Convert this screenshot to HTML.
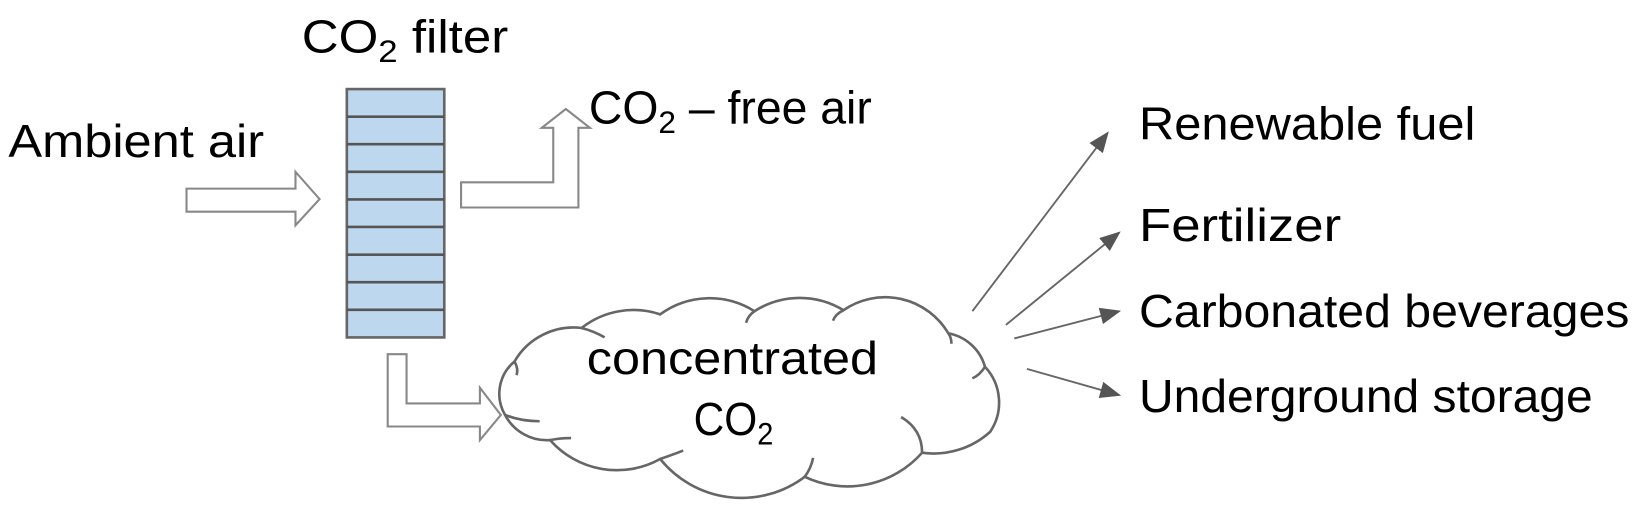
<!DOCTYPE html>
<html><head><meta charset="utf-8"><style>html,body{margin:0;padding:0;background:#fff}svg{display:block}</style></head>
<body>
<svg width="1643" height="514" viewBox="0 0 1568 490.5" xmlns="http://www.w3.org/2000/svg" font-family="Liberation Sans, sans-serif" font-size="44" fill="#000">
<defs>
<marker id="ah2" markerWidth="20" markerHeight="16" refX="18" refY="8" orient="auto" markerUnits="userSpaceOnUse" viewBox="0 0 20 16"><path d="M0,0 L20,8 L0,16 Z" fill="#555"/></marker></defs>
<text x="8" y="150" textLength="244" lengthAdjust="spacingAndGlyphs">Ambient air</text>
<text x="288" y="50" textLength="197" lengthAdjust="spacingAndGlyphs">CO<tspan font-size="30" dy="9">2</tspan><tspan dy="-9"> filter</tspan></text>
<text x="562" y="118" textLength="270" lengthAdjust="spacingAndGlyphs">CO<tspan font-size="30" dy="9">2</tspan><tspan dy="-9"> – free air</tspan></text>
<path d="M178,180 H282 V164 L305,190 L282,215 V202 H178 Z" fill="#fff" stroke="#888" stroke-width="2"/>
<rect x="331" y="85" width="93" height="237" fill="#bdd7ee" stroke="#666" stroke-width="2.5"/>
<g stroke="#555" stroke-width="2.5">
<line x1="331" y1="111.3" x2="424" y2="111.3"/><line x1="331" y1="137.6" x2="424" y2="137.6"/><line x1="331" y1="164" x2="424" y2="164"/><line x1="331" y1="190.3" x2="424" y2="190.3"/><line x1="331" y1="216.6" x2="424" y2="216.6"/><line x1="331" y1="243" x2="424" y2="243"/><line x1="331" y1="269.3" x2="424" y2="269.3"/><line x1="331" y1="295.6" x2="424" y2="295.6"/>
</g>
<path d="M440,174 H528 V122 H517 L540,104 L563,122 H552 V198 H440 Z" fill="#fff" stroke="#888" stroke-width="2"/>
<path d="M370,338 H388 V385 H458 V370 L478,396 L458,420 V407 H370 Z" fill="#fff" stroke="#888" stroke-width="2"/>
<path d="M482,396 A40,40 0 0 1 491,345 A65,65 0 0 1 555,313 A80,80 0 0 1 630,300 A80,80 0 0 1 720,297 A80,80 0 0 1 805,296 A70,70 0 0 1 905,318 A45,45 0 0 1 940,350 A50,50 0 0 1 945,412 A80,80 0 0 1 880,432 A95,95 0 0 1 768,455 A100,100 0 0 1 630,438 A85,85 0 0 1 525,420 A45,45 0 0 1 482,396 Z" fill="#fff" stroke="#666" stroke-width="2.5"/>
<g fill="none" stroke="#666" stroke-width="2.5">
<path d="M482,396 Q497,402 515,402"/><path d="M491,345 Q495,352 493,358"/><path d="M555,313 Q567,316 577,322"/><path d="M720,297 Q714,301 712,308"/><path d="M805,296 Q797,300 795,306"/><path d="M905,318 Q908,322 908,328"/><path d="M940,350 Q935,358 928,361"/><path d="M880,432 Q880,410 860,398"/><path d="M768,455 Q774,447 776,437"/><path d="M630,438 Q642,434 652,430"/><path d="M525,420 Q534,418 545,418"/>
</g>
<text x="560" y="357" textLength="278" lengthAdjust="spacingAndGlyphs">concentrated</text>
<text x="662" y="415" textLength="76" lengthAdjust="spacingAndGlyphs">CO<tspan font-size="30" dy="9">2</tspan></text>
<g stroke="#666" stroke-width="1.8">
<line x1="928" y1="297" x2="1057" y2="127" marker-end="url(#ah2)"/>
<line x1="960" y1="310" x2="1068" y2="222" marker-end="url(#ah2)"/>
<line x1="968" y1="323" x2="1068" y2="297" marker-end="url(#ah2)"/>
<line x1="980" y1="352" x2="1068" y2="377" marker-end="url(#ah2)"/>
</g>
<text x="1087" y="133" textLength="321" lengthAdjust="spacingAndGlyphs">Renewable fuel</text>
<text x="1087" y="230" textLength="193" lengthAdjust="spacingAndGlyphs">Fertilizer</text>
<text x="1087" y="312" textLength="468" lengthAdjust="spacingAndGlyphs">Carbonated beverages</text>
<text x="1087" y="393" textLength="433" lengthAdjust="spacingAndGlyphs">Underground storage</text>
</svg>
</body></html>
